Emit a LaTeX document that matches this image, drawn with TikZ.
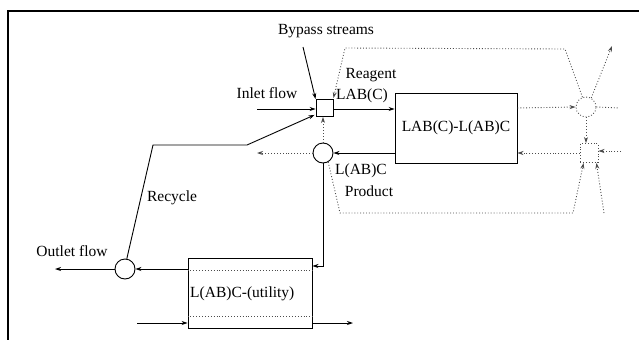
\documentclass[tikz,border=0pt]{standalone}
\usepackage{fontspec}
\setmainfont{Liberation Serif}
\usetikzlibrary{arrows.meta,calc}
\begin{document}
\begin{tikzpicture}[x=1pt,y=-1pt,
  every node/.style={font=\fontsize{15.5}{18}\selectfont},
  ln/.style={line width=0.9pt},
  dl/.style={line width=0.9pt,dotted,gray!60!black},
  arr/.style={-{Stealth[length=6pt,width=4pt]}},
  blk/.style={draw,line width=0.9pt,rectangle,inner sep=0pt},
  circ/.style={draw,line width=0.9pt,circle,minimum size=20pt,inner sep=0pt},
  dcirc/.style={draw,dotted,line width=0.9pt,gray!60!black,circle,minimum size=20pt,inner sep=0pt},
  lab/.style={inner sep=1pt}]
\useasboundingbox (0,0) rectangle (639,340);
% frame
\draw[line width=1.2pt] (639,11) -- (8,11) -- (8,340);

% nodes
\node[blk,minimum width=17pt,minimum height=17pt] (mix) at (324.5,108) {};
\node[blk,minimum width=122pt,minimum height=70pt] (rbox) at (456,128) {LAB(C)-L(AB)C};
\node[circ] (split) at (323,153) {};
\node[circ] (out) at (125,269) {};
\node[blk,minimum width=124pt,minimum height=70pt] (ubox) at (250,293) {};
\node[lab,anchor=west] (ulab) at (189,294) {L(AB)C-(utility)};
\node[dcirc] (ucirc) at (586,107) {};
\node[draw,dotted,line width=0.9pt,gray!60!black,minimum width=18pt,minimum height=19pt,inner sep=0pt] (usq) at (589,153) {};

% labels
\node[lab] (bypass) at (326,31) {Bypass streams};
\node[lab] (inlet) at (267,93) {Inlet flow};
\node[lab] (reag) at (371,75) {Reagent};
\node[lab] (labc) at (362,96) {LAB(C)};
\node[lab] (prod1) at (361,171) {L(AB)C};
\node[lab] (prod2) at (369,191) {Product};
\node[lab] (recy) at (172,198) {Recycle};
\node[lab] (outl) at (72,251) {Outlet flow};

% coordinates
\coordinate (inS) at (257,109);
\coordinate (byS) at (303,47);
\coordinate (tl) at (345,48);
\coordinate (tr) at (565,49);
\coordinate (ur) at (619,108);
\coordinate (ue) at (612,46);
\coordinate (rr) at (621,151);
\coordinate (b1) at (340,213);
\coordinate (b2) at (573,213);
\coordinate (b3) at (604,213);
\coordinate (spl) at (257,153);
\coordinate (dn) at (323,266);
\coordinate (outE) at (55,269);
\coordinate (rc1) at (153,145);
\coordinate (rc2) at (247,145);
\coordinate (uin) at (137,323);
\coordinate (uout) at (353,323);

% solid connectors
\draw[ln,arr] (inS) -- (inS -| mix.west);
\draw[ln,arr] (byS) -- (mix.north west);
\draw[ln,arr] (mix.east |- 0,109) -- (rbox.west |- 0,109);
\draw[ln,arr] (rbox.west |- split) -- (split.east);
\draw[ln,arr] (split.south) -- (dn) -- (dn -| ubox.east);
\draw[ln,arr] (ubox.west |- out) -- (out.east);
\draw[ln,arr] (out.west) -- (outE);
\draw[ln,arr] (out.80) -- (rc1) -- (rc2) -- ($(mix.south west)+(-1,-2)$);
\draw[ln,arr] (uin) -- (uin -| ubox.west);
\draw[ln,arr] (uout -| ubox.east) -- (uout);

% dotted connectors
\draw[dl,arr] (ucirc) -- (tr) -- (tl) -- ($(mix.north east)+(0,-1)$);
\draw[dl,arr] (rbox.east |- 0,108) -- (ucirc.west);
\draw[dl] (ucirc.east) -- (ur);
\draw[dl,arr] (ucirc.60) -- (ue);
\draw[dl,arr] (ucirc.south) -- (usq.north -| ucirc.south);
\draw[dl,arr] (rr) -- (usq.east |- rr);
\draw[dl,arr] (usq.west) -- (usq.west -| rbox.east);
\draw[dl,arr] (b3) -- ($(usq.south east)+(-2,0)$);
\draw[dl,arr] (split.-60) -- (b1) -- (b2) -- ($(usq.south west)+(4,0)$);
\draw[dl,arr] (split.west) -- (spl);
\draw[dl,arr] (split.north) -- (mix.south -| split.north);

% dotted lines inside utility box
\draw[dl] ($(ubox.north west)+(0,13)$) -- ($(ubox.north east)+(0,13)$);
\draw[dl] ($(ubox.south west)+(0,-12)$) -- ($(ubox.south east)+(0,-12)$);
\end{tikzpicture}
\end{document}
